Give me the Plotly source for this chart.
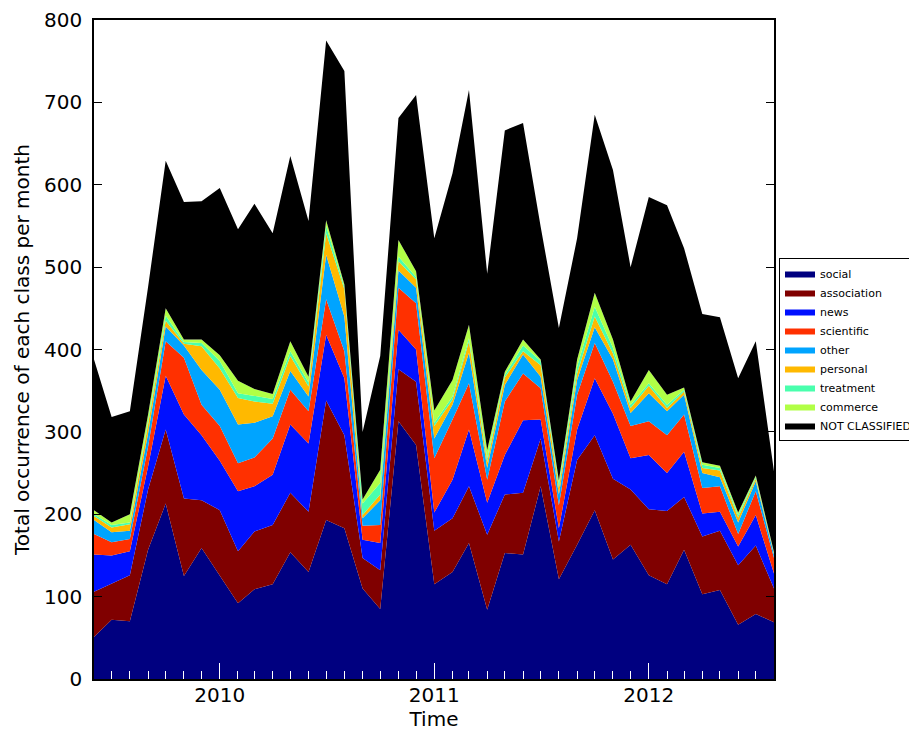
import pandas as pd
import plotly.graph_objects as go

months = pd.date_range("2009-06-01", periods=39, freq="MS")

social = [51, 72, 70, 157, 213, 125, 159, 126, 92, 109, 115, 154, 130, 193, 183, 110, 85, 313, 284, 115,
          130, 165, 84, 153, 151, 234, 121, 163, 205, 145, 163, 126, 115, 157, 103, 108, 66, 79, 69]
association = [55, 44, 56, 73, 90, 94, 58, 79, 63, 70, 72, 72, 73, 145, 113, 37, 47, 63, 77, 65,
               65, 69, 91, 71, 75, 58, 46, 103, 91, 98, 67, 80, 89, 64, 70, 72, 72, 83, 41]
news = [45, 34, 29, 28, 65, 102, 79, 60, 73, 55, 61, 83, 83, 80, 69, 22, 33, 48, 39, 22,
        47, 69, 39, 48, 88, 23, 16, 37, 69, 79, 38, 66, 46, 55, 28, 23, 23, 37, 18]
scientific = [25, 16, 15, 24, 42, 69, 37, 42, 34, 35, 44, 42, 39, 43, 33, 17, 22, 51, 56, 66,
              73, 56, 28, 65, 57, 38, 28, 42, 43, 39, 39, 41, 46, 45, 31, 31, 15, 29, 19]
other = [17, 12, 10, 16, 18, 15, 42, 44, 47, 42, 27, 23, 18, 54, 42, 9, 30, 21, 19, 24,
         18, 37, 14, 20, 23, 14, 13, 18, 19, 27, 16, 34, 29, 24, 18, 11, 14, 12, 4]
personal = [5, 6, 8, 11, 7, 2, 29, 26, 32, 26, 15, 18, 12, 26, 33, 4, 7, 11, 10, 15,
            6, 14, 7, 9, 4, 14, 8, 8, 13, 7, 6, 9, 4, 4, 6, 8, 6, 3, 1]
treatment = [2, 3, 2, 4, 6, 2, 4, 9, 6, 7, 6, 6, 5, 9, 3, 14, 14, 6, 3, 4,
             4, 4, 5, 3, 7, 5, 5, 8, 12, 7, 4, 3, 4, 2, 4, 3, 3, 2, 1]
commerce = [5, 3, 10, 8, 9, 3, 4, 7, 15, 8, 6, 12, 7, 7, 3, 5, 16, 20, 7, 15,
            20, 16, 10, 4, 7, 2, 4, 9, 17, 10, 4, 16, 12, 3, 3, 3, 3, 2, 1]
not_classified = [183, 128, 125, 155, 179, 167, 168, 203, 184, 225, 195, 225, 189, 218, 259, 82, 138, 148, 214, 209,
                  251, 285, 214, 293, 263, 161, 185, 147, 216, 206, 163, 210, 230, 169, 180, 180, 163, 163, 98]

series = [
    ("social", social, "#000080"),
    ("association", association, "#800000"),
    ("news", news, "#0010ff"),
    ("scientific", scientific, "#ff3000"),
    ("other", other, "#00a4ff"),
    ("personal", personal, "#ffb900"),
    ("treatment", treatment, "#49ffad"),
    ("commerce", commerce, "#b1ff46"),
    ("NOT CLASSIFIED", not_classified, "#000000"),
]

fig = go.Figure()
for name, vals, col in series:
    fig.add_trace(go.Scatter(
        x=months, y=vals, name=name, mode="lines", stackgroup="one",
        line=dict(width=0, color=col), fillcolor=col,
    ))

font = "DejaVu Sans"
fig.update_layout(
    width=909, height=733,
    margin=dict(l=94, r=135, t=20, b=54, autoexpand=False),
    paper_bgcolor="white", plot_bgcolor="white",
    font=dict(family=font, size=20, color="black"),
    showlegend=True,
    legend=dict(
        x=(779 - 94) / 680, y=(679 - 258) / 659, xanchor="left", yanchor="top",
        bgcolor="white", bordercolor="black", borderwidth=1,
        font=dict(family=font, size=11, color="black"),
        traceorder="normal", tracegroupgap=0,
    ),
    xaxis=dict(
        type="date", range=["2009-06-01", "2012-08-01"],
        tickmode="linear", tick0="2010-01-01", dtick="M12", tickformat="%Y",
        ticks="inside", ticklen=16, tickcolor="white", tickwidth=1,
        minor=dict(dtick="M1", tick0="2009-06-01", ticks="inside", ticklen=8, tickcolor="white", tickwidth=1),
        showgrid=False, zeroline=False,
        showline=True, linecolor="black", linewidth=1.5, mirror=True,
        title=dict(text="Time", font=dict(size=20), standoff=5),
        ticklabelstandoff=-3,
    ),
    yaxis=dict(
        range=[0, 800], tickmode="linear", tick0=0, dtick=100,
        ticks="inside", ticklen=8, tickcolor="black", tickwidth=1,
        showgrid=False, zeroline=False,
        showline=True, linecolor="black", linewidth=1.5, mirror="ticks",
        title=dict(text="Total occurrence of each class per month", font=dict(size=20), standoff=9),
        ticklabelstandoff=6,
    ),
)

fig.write_html("out.html")
